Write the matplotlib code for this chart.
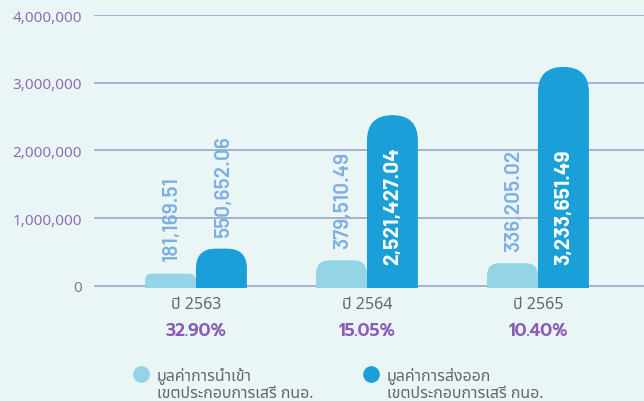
import matplotlib
matplotlib.use("Agg")
import matplotlib.pyplot as plt
from matplotlib.patches import FancyBboxPatch
from matplotlib.lines import Line2D
from matplotlib.transforms import blended_transform_factory
from matplotlib.ticker import FuncFormatter

# ---------------- data ----------------
years = ["ปี 2563", "ปี 2564", "ปี 2565"]
import_values = [181169.51, 379510.49, 336205.02]
export_values = [550652.06, 2521427.04, 3233651.49]
percent_labels = ["32.90%", "15.05%", "10.40%"]
series_names = ["มูลค่าการนำเข้า\nเขตประกอบการเสรี กนอ.",
                "มูลค่าการส่งออก\nเขตประกอบการเสรี กนอ."]
y_ticks = [0, 1000000, 2000000, 3000000, 4000000]

# ---------------- style ----------------
BG = "#EAF6F6"
LIGHT = "#95D4E7"
DARK = "#1A9FD9"
LIGHT_LABEL = "#7DAFE0"
GRID = "#A0A4C8"
PURPLE_TICK = "#8A70B8"
PURPLE_PCT = "#8A5DB5"
GRAY = "#666666"
FONT = ["Noto Sans", "Noto Sans Thai", "DejaVu Sans"]
NUMFONT = ["Barlow", "DejaVu Sans"]
PCTFONT = ["Prompt", "DejaVu Sans"]
plt.rcParams["font.family"] = FONT

W, H = 644, 402
fig = plt.figure(figsize=(W / 100, H / 100), dpi=100, facecolor=BG)
ax = fig.add_axes([94 / W, 1 - 289 / H, 550 / W, 273 / H])
ax.set_facecolor(BG)

x = list(range(len(years)))
bar_w = 0.298
ymin = -30000
ax.set_xlim(-0.596, 2.62)
ax.set_ylim(ymin, 4000000)

for s in ax.spines.values():
    s.set_visible(False)
ax.set_yticks(y_ticks)
ax.yaxis.set_major_formatter(FuncFormatter(lambda v, p: f"{int(v):,}"))
ax.tick_params(axis="y", length=0, pad=8.5, labelsize=11, labelcolor=PURPLE_TICK)
ax.set_xticks(x, years)
ax.tick_params(axis="x", length=0, pad=5.5, labelsize=11.5, labelcolor=GRAY)
for v in y_ticks:
    ax.axhline(v, color=GRID, lw=1.2, zorder=0)

fig.canvas.draw()
p0 = ax.transData.transform((0, 0))
p1 = ax.transData.transform((1, 1))
sx = p1[0] - p0[0]   # px per x unit
sy = p1[1] - p0[1]   # px per y unit


def rounded_bar(xc, width, value, color, max_r_px):
    h_px = (value - ymin) * sy
    r_px = min(max_r_px, h_px / 2)
    rx = r_px / sx
    ry = r_px / sy
    bottom = ymin - 2 * ry
    patch = FancyBboxPatch((xc - width / 2, bottom), width, value - bottom,
                           boxstyle=f"round,pad=0,rounding_size={rx}",
                           mutation_aspect=ry / rx,
                           facecolor=color, edgecolor="none", zorder=2)
    ax.add_patch(patch)


half_px = bar_w * sx / 2
for i in x:
    xl = i - bar_w / 2
    xr = i + bar_w / 2
    rounded_bar(xl, bar_w, import_values[i], LIGHT, half_px)
    rounded_bar(xr, bar_w, export_values[i], DARK, half_px)

    ax.annotate(f"{import_values[i]:,.2f}", (xl, import_values[i]),
                xytext=(1, 9), textcoords="offset points", rotation=90,
                ha="center", va="bottom", fontsize=15, color=LIGHT_LABEL,
                family=NUMFONT, fontweight="semibold", zorder=3)
    if export_values[i] > 1500000:
        ax.annotate(f"{export_values[i]:,.2f}", (xr, 0),
                    xytext=(0, 16), textcoords="offset points", rotation=90,
                    ha="center", va="bottom", fontsize=15, color="white",
                    family=NUMFONT, fontweight="bold", zorder=3)
    else:
        ax.annotate(f"{export_values[i]:,.2f}", (xr, export_values[i]),
                    xytext=(1.5, 9), textcoords="offset points", rotation=90,
                    ha="center", va="bottom", fontsize=15, color=LIGHT_LABEL,
                    family=NUMFONT, fontweight="semibold", zorder=3)

# percentages row
tr = blended_transform_factory(ax.transData, fig.transFigure)
for i in x:
    ax.text(i, 1 - 332 / H, percent_labels[i], transform=tr, ha="center",
            va="center", fontsize=12.5, fontweight="semibold", color=PURPLE_PCT,
            family=PCTFONT)

# legend (manual)
legend_pos = [(141, 157), (371, 387)]
for (cx, tx), name, col in zip(legend_pos, series_names, [LIGHT, DARK]):
    fig.add_artist(Line2D([cx / W], [1 - 375 / H], marker="o", markersize=11,
                          color=col, linestyle="none", transform=fig.transFigure))
    for k, line in enumerate(name.split("\n")):
        fig.text(tx / W, 1 - (380 + 18 * k) / H, line, ha="left",
                 va="baseline", fontsize=11.5, color=GRAY)

fig.savefig("out.png", dpi=100, facecolor=BG)
